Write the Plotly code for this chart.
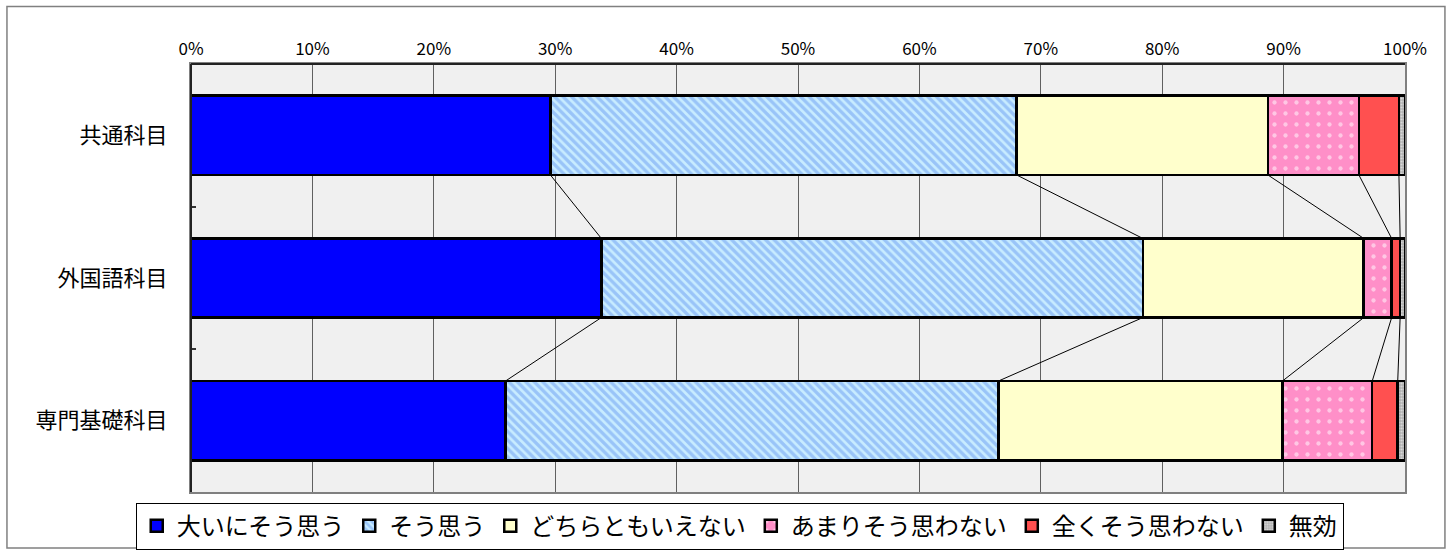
import plotly.graph_objects as go
import numpy as np

categories = ["共通科目", "外国語科目", "専門基礎科目"]
series_names = ["大いにそう思う", "そう思う", "どちらともいえない", "あまりそう思わない", "全くそう思わない", "無効"]
v_oini = [29.6, 33.8, 25.9]
v_sou = [38.4, 44.6, 40.6]
v_dochira = [20.7, 18.2, 23.4]
v_amari = [7.5, 2.3, 7.4]
v_mattaku = [3.3, 0.7, 2.1]
v_muko = [0.5, 0.4, 0.6]
x_ticks = [0, 10, 20, 30, 40, 50, 60, 70, 80, 90, 100]

series_vals = [v_oini, v_sou, v_dochira, v_amari, v_mattaku, v_muko]
FONT = "Noto Sans CJK JP"
BAR_W = 0.555
ypos = list(range(len(categories)))

styles = [
    dict(color="#0000ff"),
    dict(color="#c2e2ff", pattern=dict(shape="\\", fgcolor="#6a9cf2", bgcolor="#c8ecff", size=6, solidity=0.55)),
    dict(color="#ffffcc"),
    dict(color="#ff99cc", pattern=dict(shape=".", fgcolor="#ffffff", bgcolor="#ff8fc8", size=11, solidity=0.12)),
    dict(color="#ff5050"),
    dict(color="#c8c8c8", pattern=dict(shape=".", fgcolor="#ffffff", bgcolor="#b0b0b0", size=3, solidity=0.4)),
]

fig = go.Figure()

# series connector lines between adjacent bars
cum = np.cumsum(np.array(series_vals), axis=0)
for k in range(len(series_vals) - 1):
    for i in range(len(categories) - 1):
        fig.add_trace(go.Scatter(
            x=[cum[k][i], cum[k][i + 1]],
            y=[ypos[i] + BAR_W / 2, ypos[i + 1] - BAR_W / 2],
            mode="lines", line=dict(color="black", width=1),
            showlegend=False, hoverinfo="skip"))

for name, vals, st in zip(series_names, series_vals, styles):
    marker = dict(color=st["color"], line=dict(color="black", width=2.5))
    if "pattern" in st:
        marker["pattern"] = st["pattern"]
    fig.add_trace(go.Bar(
        x=vals, y=ypos, name=name, orientation="h", width=BAR_W,
        marker=marker))

fig.update_layout(
    barmode="stack",
    width=1450, height=554,
    margin=dict(l=191, r=45, t=64, b=62, autoexpand=False),
    paper_bgcolor="white",
    plot_bgcolor="#f0f0f0",
    font=dict(family=FONT, color="black"),
    legend=dict(
        orientation="h", x=0.452, xanchor="center", y=-0.025, yanchor="top",
        font=dict(size=24, family=FONT), bordercolor="black", borderwidth=1,
        traceorder="normal", itemwidth=30,
    ),
    xaxis=dict(
        side="top", range=[0, 100], tickvals=x_ticks,
        ticktext=[f"{t}%" for t in x_ticks],
        showgrid=True, gridcolor="#606060", gridwidth=1,
        tickfont=dict(size=17, family=FONT), ticks="",
        showline=True, linecolor="#808080", linewidth=2, mirror=True,
        zeroline=False,
    ),
    yaxis=dict(
        range=[len(categories) - 0.5, -0.5], tickvals=ypos, ticktext=categories,
        tickfont=dict(size=22, family=FONT), ticks="", showgrid=False,
        showline=True, linecolor="#808080", linewidth=2, mirror=True,
        zeroline=False, ticklabelstandoff=17,
        minor=dict(tickvals=[0.5, 1.5], ticks="inside", ticklen=5, tickcolor="#333333", tickwidth=2, showgrid=False),
    ),
    shapes=[
        dict(type="line", xref="paper", yref="paper", x0=0, x1=0, y0=0, y1=1,
             line=dict(color="#222222", width=2)),
        dict(type="line", xref="paper", yref="paper", x0=0, x1=1, y0=1, y1=1,
             line=dict(color="#222222", width=2)),
        dict(type="rect", xref="paper", yref="paper",
             x0=-0.1516, x1=1.0329, y0=-0.1308, y1=1.1346,
             line=dict(color="#808080", width=1.5), layer="below"),
    ],
)

fig.write_html("out.html", config={"displayModeBar": False},
               post_script="document.body.style.margin='0';")
